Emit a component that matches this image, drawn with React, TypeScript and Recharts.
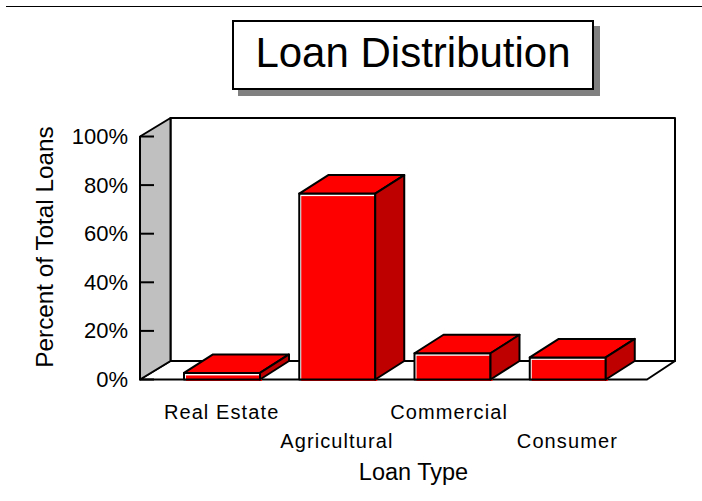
import React from 'react';
import { BarChart, Bar, XAxis, YAxis, ReferenceArea } from 'recharts';

const loanTypes = ['Real Estate', 'Agricultural', 'Commercial', 'Consumer'];
const percentOfLoans = [2.7, 76.5, 10.8, 9.1];
const percentTicks = [0, 20, 40, 60, 80, 100];

const data = loanTypes.map((name, i) => ({ name, percent: percentOfLoans[i] }));

const FONT = '"Liberation Sans", Arial, sans-serif';
const INK = '#000000';
const RED = '#ff0000';
const DARK_RED = '#bf0000';
const WALL = '#c0c0c0';
const LINE = 2;

// depth of the fake 3D projection
const DEPTH_X = 29;
const DEPTH_Y = 18.5;
const BACK_LEFT = 30.5;
const BACK_RIGHT = 28;

// space between the plot edges and the first and last bars
const PAD_LEFT = 24;
const PAD_RIGHT = 22;

const poly = (pts: number[][]) => pts.map((p) => p.join(',')).join(' ');

// side wall, back wall and floor
const Walls = ({ x: padX, y, width, height }: any) => {
  const x = padX - PAD_LEFT;
  const right = padX + width + PAD_RIGHT;
  const bottom = y + height;
  return (
    <g stroke={INK} strokeWidth={LINE} strokeLinejoin="round">
      <polygon
        fill="#ffffff"
        points={poly([
          [x + BACK_LEFT, y - DEPTH_Y],
          [right + BACK_RIGHT, y - DEPTH_Y],
          [right + BACK_RIGHT, bottom - DEPTH_Y],
          [x + BACK_LEFT, bottom - DEPTH_Y],
        ])}
      />
      <polygon
        fill="#ffffff"
        points={poly([
          [x, bottom],
          [x + BACK_LEFT, bottom - DEPTH_Y],
          [right + BACK_RIGHT, bottom - DEPTH_Y],
          [right, bottom],
        ])}
      />
      <polygon
        fill={WALL}
        points={poly([
          [x, y],
          [x + BACK_LEFT, y - DEPTH_Y],
          [x + BACK_LEFT, bottom - DEPTH_Y],
          [x, bottom],
        ])}
      />
    </g>
  );
};

const Box3D = ({ x, y, width, height }: any) => {
  const bottom = y + height;
  const right = x + width;
  return (
    <g strokeLinejoin="round">
      {/* fill sits slightly off the outline, leaving a white sliver */}
      <rect x={x} y={y} width={width} height={height} fill="#ffffff" />
      <rect x={x + 2} y={y + 2.5} width={width} height={height - 1} fill={RED} />
      <g stroke={INK} strokeWidth={LINE}>
        <rect x={x} y={y} width={width} height={height} fill="none" />
        <polygon
          fill={RED}
          points={poly([
            [x, y],
            [x + DEPTH_X, y - DEPTH_Y],
            [right + DEPTH_X, y - DEPTH_Y],
            [right, y],
          ])}
        />
        <polygon
          fill={DARK_RED}
          points={poly([
            [right, y],
            [right + DEPTH_X, y - DEPTH_Y],
            [right + DEPTH_X, bottom - DEPTH_Y],
            [right, bottom],
          ])}
        />
      </g>
    </g>
  );
};

const PercentTick = ({ x, y, payload }: any) => (
  <g>
    <line x1={x} x2={x + 14} y1={y} y2={y} stroke={INK} strokeWidth={LINE} />
    <text x={x - 12} y={y + 7.5} textAnchor="end" fontFamily={FONT} fontSize={22} fill={INK}>
      {payload.value}%
    </text>
  </g>
);

// labels alternate between two rows
const LoanTick = ({ x, y, payload, index }: any) => (
  <text
    x={x + (index === 2 ? -3 : 0)}
    y={y + (index % 2 ? 60 : 31)}
    textAnchor="middle"
    fontFamily={FONT}
    fontSize={20}
    letterSpacing={1.1}
    fill={INK}
  >
    {payload.value}
  </text>
);

export default function App() {
  return (
    <div style={{ position: 'absolute', left: 0, top: 0, width: 702, height: 501, background: '#fff' }}>
      <div style={{ position: 'absolute', left: 6, right: 0, top: 5.5, height: 1.5, background: INK }} />
      <div
        style={{
          position: 'absolute',
          left: 232,
          top: 20,
          width: 358,
          height: 66,
          border: '2px solid #000',
          boxShadow: '6px 6px 0 #808080',
          background: '#fff',
          fontFamily: FONT,
          fontSize: 42,
          lineHeight: '62px',
          textAlign: 'center',
          zIndex: 2,
        }}
      >
        Loan Distribution
      </div>
      <BarChart
        width={702}
        height={501}
        data={data}
        margin={{ top: 136.5, right: 55, bottom: 1.5, left: 0 }}
        barSize={76}
      >
        <XAxis
          dataKey="name"
          height={120}
          padding={{ left: PAD_LEFT, right: PAD_RIGHT }}
          axisLine={false}
          tickLine={false}
          interval={0}
          tick={<LoanTick />}
          label={{
            value: 'Loan Type',
            position: 'insideBottom',
            offset: 20,
            dx: 20,
            fontFamily: FONT,
            fontSize: 23.5,
            fill: INK,
          }}
        />
        <YAxis
          width={140}
          domain={[0, 100]}
          ticks={percentTicks}
          axisLine={false}
          tickLine={false}
          tickSize={0}
          tickMargin={0}
          tick={<PercentTick />}
          label={{
            value: 'Percent of Total Loans',
            angle: -90,
            position: 'insideLeft',
            dx: 39,
            dy: -11,
            fontFamily: FONT,
            fontSize: 24.3,
            fill: INK,
            style: { textAnchor: 'middle' },
          }}
        />
        <ReferenceArea y1={0} y2={100} shape={<Walls />} ifOverflow="visible" />
        <Bar dataKey="percent" isAnimationActive={false} shape={<Box3D />} />
      </BarChart>
    </div>
  );
}
